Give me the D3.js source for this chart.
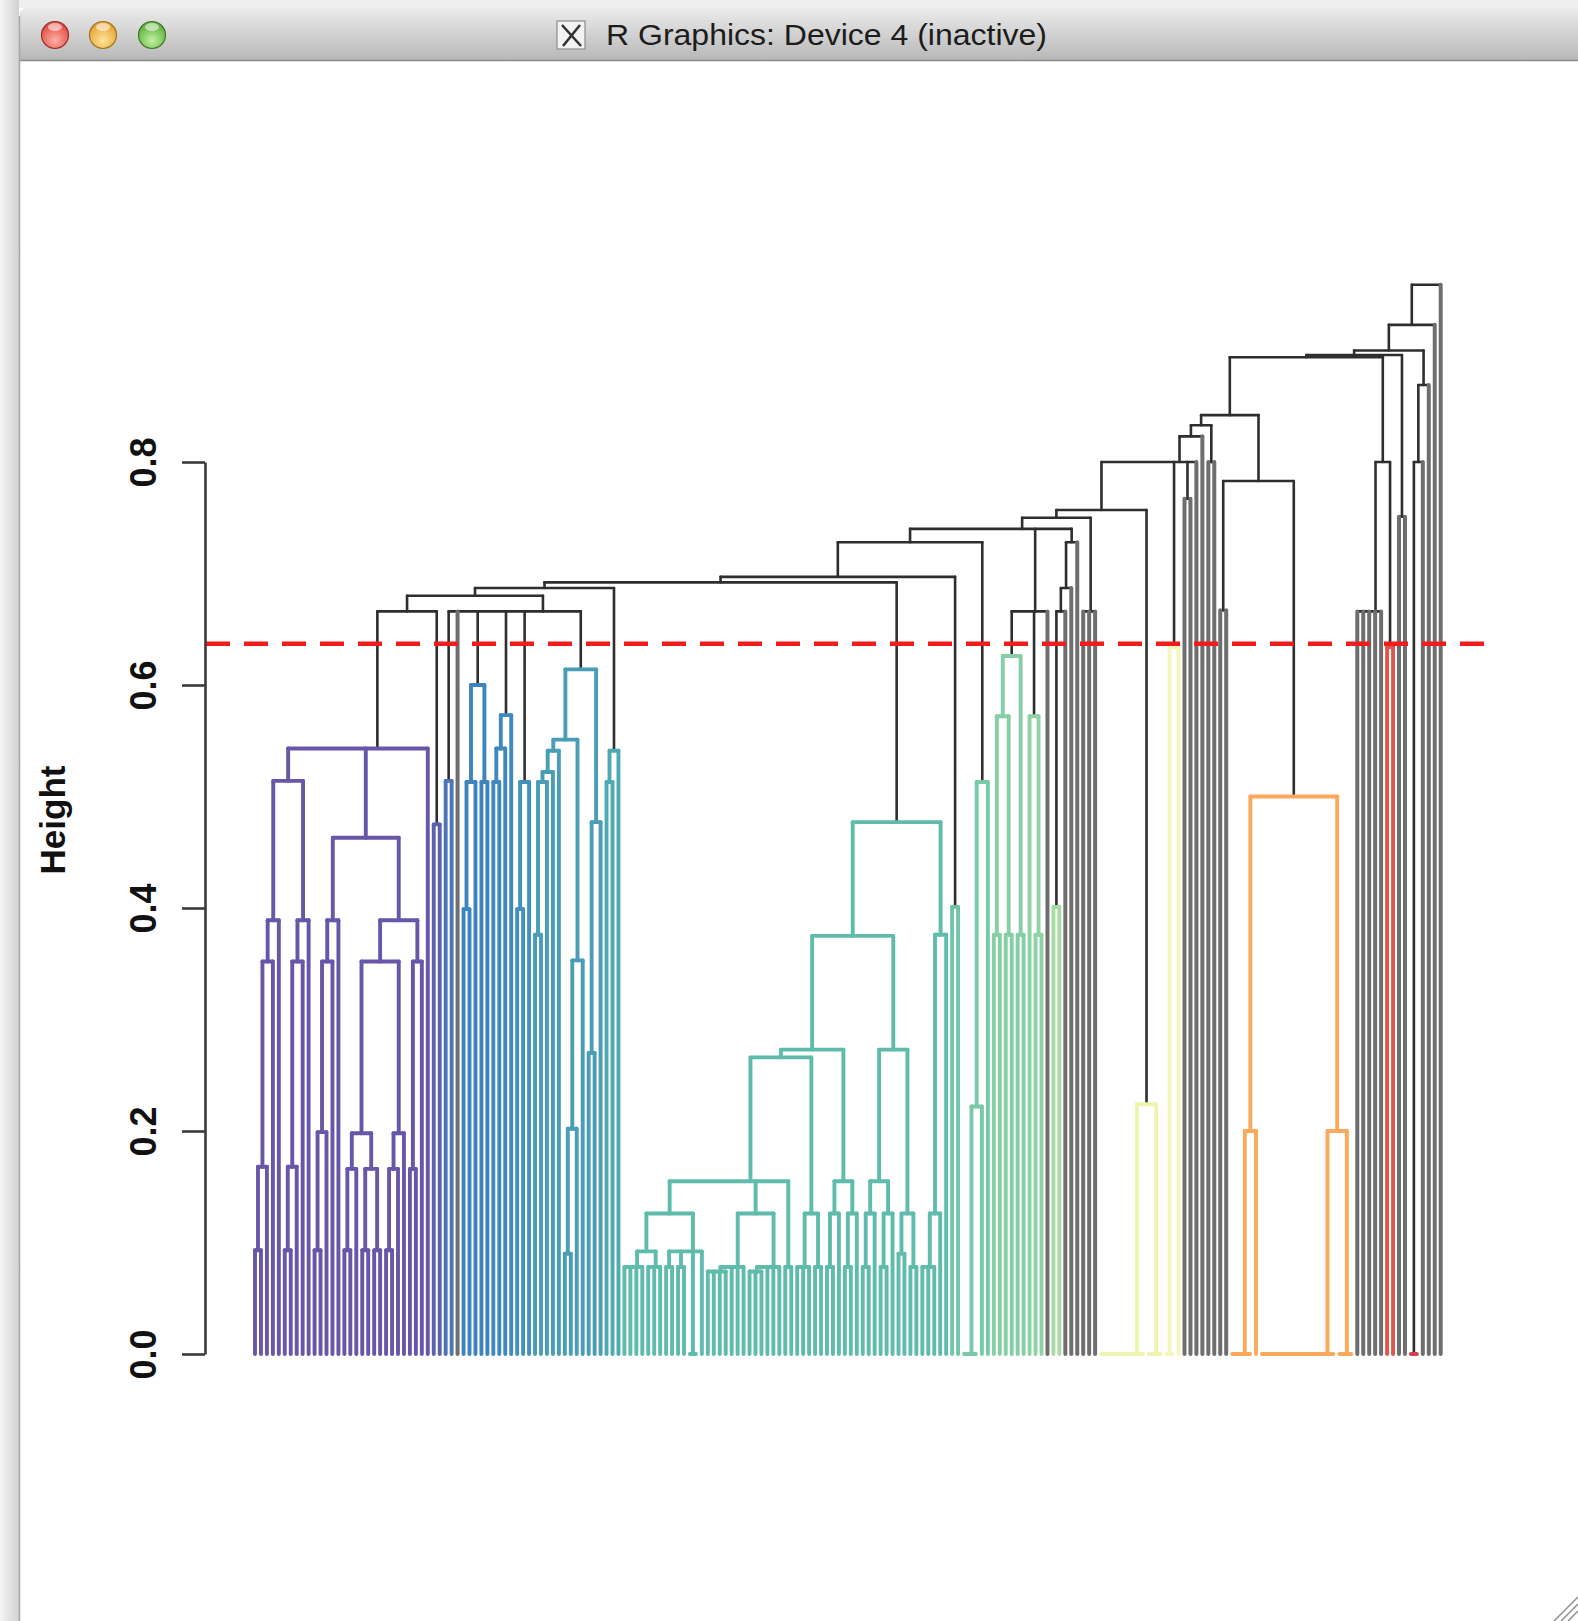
<!DOCTYPE html>
<html>
<head>
<meta charset="utf-8">
<script src="https://cdn.jsdelivr.net/npm/d3@7"></script>
<style>
  body { margin: 0; background: #fff; overflow: hidden; }
</style>
</head>
<body>
<div id="container"></div>
<script>
// a leaf of the dendrogram
const _ = null;

let windowTitle = "R Graphics: Device 4 (inactive)";
let yLabel = "Height";
let yTicks = [0, 0.2, 0.4, 0.6, 0.8];
let cutHeight = 0.637;

// ---- clusters (below the cut), left to right. node = [height, child, child, ...]
let purple = [0.543,
  [0.514,
    [0.389, [0.352, [0.168, [0.093, _, _], _], _], _],
    [0.389, [0.352, [0.168, [0.093, _, _], _], _], _]],
  [0.463,
    [0.389, [0.352, [0.199, [0.093, _, _], _], _], _],
    [0.389,
      [0.352,
        [0.198, [0.166, [0.093, _, _], _], [0.166, [0.093, _, _], [0.093, _, _]]],
        [0.198, [0.166, [0.093, _, _], _], _]],
      [0.352, [0.166, _, _], _]]],
  _];
let purpleBlue = [0.475, _, _];
let blueSmall = [0.514, _, _];
let blue1 = [0.600, [0.513, [0.399, _, _], _], [0.513, _, _]];
let blue2 = [0.573, [0.543, [0.513, _, _], _], _];
let blue3 = [0.513, [0.399, _, _], _];
let teal1 = [0.614,
  [0.551,
    [0.541, [0.522, [0.513, [0.376, _, _], _], _], _],
    [0.353, [0.202, [0.090, _, _], _], _]],
  [0.477, [0.270, _, _], _]];
let teal2 = [0.541, [0.513, _, _], _];

let tealA = [0.126,
  [0.092, [0.078, _, _, _, _], [0.078, _, _, _]],
  [0.092, [0.078, _, _], [0.078, _, _], [0, _, _], _]];
let tealB = [0.126,
  [0.078, [0.074, _, _, _, _], _, _, _],
  [0.078, [0.074, _, _, _], _, _, _]];
let tealC = [0.078, _, _];
let tealD = [0.126, [0.078, _, _, _], [0.078, _, _]];
let tealE = [0.155, [0.126, [0.078, _, _], _], [0.126, [0.078, _, _], _]];
let tealF = [0.155, [0.126, [0.078, _, _], _], [0.126, [0.078, _, _], _]];
let tealG = [0.126, [0.090, _, _], [0.078, _, _]];
let tealH = [0.376, [0.126, [0.078, _, _, _], _], _];
let tealBig = [0.477,
  [0.375,
    [0.273, [0.266, [0.155, tealA, tealB, tealC], tealD], tealE],
    [0.273, tealF, tealG]],
  tealH];

let greenCol = [0.401, _, _];
let greenW = [0.513, [0.222, [0, _, _, _], _], _];
let green2 = [0.626, [0.572, [0.376, _, _], [0.376, _, _]], [0.376, _, _]];
let green3 = [0.572, _, [0.376, _, _]];
let green4 = [0.401, _, _];
let yellow1 = [0.224, [0, _, _, _, _, _, _, _, _], [0, _, _, _]];
let yellow2 = [0.634, [0, _, _], _];
let orange = [0.500,
  [0.200, [0, _, _, _, _], _],
  [0.200, [0, _, _, _, _, _, _, _, _, _, _, _, _, _], [0, _, _, _]]];
let red1 = [0.634, _, _];
let red2 = [0, _, _];

let clusterColors = [
  "#6757a9", "#5b64ae", "#4c74b6", "#3e84bf", "#3f89bf", "#4290bd",
  "#489db7", "#4da9b3", "#5fbcac", "#6fc5a9", "#78c9a7", "#86cfa6",
  "#8fd3a5", "#a6dba3", "#eef4ae", "#f3f6bd", "#fca95b", "#e05549", "#d83c4c"
];
let aboveCutColor = "#2e2e2e";
let singletonColor = "#6e6e6e";
let cutColor = "#f21c1c";

// ---- upper part of the tree (above the cut)
let leftPart = [0.680,
  [0.666, purple, purpleBlue],
  [0.666, blueSmall, _, blue1, blue2, blue3, teal1]];
let middle = [0.740,
  [0.728, [0.697, [0.692, [0.687, leftPart, teal2], tealBig], greenCol], greenW],
  [0.666, green2, green3, _],
  [0.728, [0.687, [0.666, green4, _], _], _]];
let yellowPart = [0.800,
  [0.757, [0.750, middle, [0.666, _, _, _]], yellow1],
  yellow2, [0.767, _, _], _];
let orangePart = [0.842,
  [0.833, [0.823, yellowPart, _], [0.800, _, _]],
  [0.783, [0.667, _, _], orange]];
let tree = [0.959,
  [0.923,
    [0.900,
      [0.896,
        [0.894, orangePart, [0.800, [0.666, _, _, _, _, _], red1]],
        [0.751, _, _]],
      [0.869, [0.800, red2, _], _]],
    _],
  _];

// ---------------------------------------------------------------
let w = 1578;
let h = 1621;

let svg = d3.select("#container")
  .append("svg")
    .attr("width", w)
    .attr("height", h)
    .style("display", "block");

let defs = svg.append("defs");

// window chrome
svg.append("rect").attr("width", w).attr("height", h).attr("fill", "#efefef");
let shadow = defs.append("linearGradient").attr("id", "shadow").attr("x1", 0).attr("x2", 1);
shadow.append("stop").attr("offset", "0%").attr("stop-color", "#f4f4f4");
shadow.append("stop").attr("offset", "100%").attr("stop-color", "#d2d2d2");
svg.append("rect").attr("x", 0).attr("y", 0).attr("width", 19).attr("height", h).attr("fill", "url(#shadow)");
svg.append("rect").attr("x", 19).attr("y", 8).attr("width", w - 19).attr("height", h - 8).attr("fill", "#ffffff");

let tg = defs.append("linearGradient").attr("id", "titleGrad").attr("x1", 0).attr("y1", 0).attr("x2", 0).attr("y2", 1);
tg.append("stop").attr("offset", "0%").attr("stop-color", "#ebebeb");
tg.append("stop").attr("offset", "100%").attr("stop-color", "#b8b8b8");
svg.append("path")
  .attr("d", "M19,60 V17 Q19,8 28,8 H1578 V60 Z")
  .attr("fill", "url(#titleGrad)");
svg.append("line").attr("x1", 19).attr("x2", w).attr("y1", 60.5).attr("y2", 60.5)
  .attr("stroke", "#8a8a8a").attr("stroke-width", 1.5);
svg.append("line").attr("x1", 19.5).attr("x2", 19.5).attr("y1", 16).attr("y2", h)
  .attr("stroke", "#a8a8a8").attr("stroke-width", 1.5);

let lights = [
  {x: 55, base: "#df4a40", hi: "#ffb0a6", edge: "#9c2f27"},
  {x: 103, base: "#e3a231", hi: "#ffe49a", edge: "#a3711b"},
  {x: 152, base: "#5cae3d", hi: "#c2f0a0", edge: "#3a7a23"}
];
lights.forEach(function(d, i){
  let g = defs.append("radialGradient").attr("id", "light" + i)
    .attr("cx", "50%").attr("cy", "70%").attr("r", "65%");
  g.append("stop").attr("offset", "0%").attr("stop-color", d.hi);
  g.append("stop").attr("offset", "100%").attr("stop-color", d.base);
  svg.append("circle").attr("cx", d.x).attr("cy", 35).attr("r", 13.5)
    .attr("fill", "url(#light" + i + ")").attr("stroke", d.edge).attr("stroke-width", 1.2);
  svg.append("ellipse").attr("cx", d.x).attr("cy", 27).attr("rx", 7).attr("ry", 4)
    .attr("fill", "#ffffff").attr("opacity", 0.55);
});

// proxy icon
svg.append("rect").attr("x", 557).attr("y", 21).attr("width", 28).attr("height", 28)
  .attr("fill", "#f3f3f3").attr("stroke", "#8c8c8c").attr("stroke-width", 1.2);
svg.append("path").attr("d", "M562,25 L581,46 M580,25 L563,46")
  .attr("stroke", "#333").attr("stroke-width", 2.6).attr("fill", "none");

svg.append("text")
  .attr("x", 606).attr("y", 45)
  .attr("textLength", 441).attr("lengthAdjust", "spacingAndGlyphs")
  .style("font", "30px 'Liberation Sans', Arial, sans-serif")
  .attr("fill", "#1c1c1c")
  .text(windowTitle);

// resize grip
[0, 7, 14].forEach(function(o){
  svg.append("line").attr("x1", 1554 + o).attr("y1", 1621).attr("x2", 1578).attr("y2", 1597 + o)
    .attr("stroke", "#8d8d8d").attr("stroke-width", 1.5);
});

// ---------------------------------------------------------------
// dendrogram layout
let leafCount = 0;
function build(d){
  if (d === _) {
    return {leaf: true, h: 0, idx: leafCount++, kids: []};
  }
  return {leaf: false, h: d[0], kids: d.slice(1).map(build)};
}
let root = build(tree);

let yScale = d3.scaleLinear().domain([0, 0.8]).range([1354, 462]);
let xScale = d3.scaleLinear().domain([0, leafCount - 1]).range([255, 1440.7]);

// R places a merge at the midpoint of the two merged groups; ties merge left to right
function place(n){
  if (n.leaf) { n.x = xScale(n.idx); return; }
  n.kids.forEach(place);
  n.x = n.kids.slice(1).reduce(function(acc, k){ return (acc + k.x) / 2; }, n.kids[0].x);
}
place(root);

let ci = 0;
function paint(n, inherited){
  if (inherited) {
    n.color = inherited; n.inCluster = true;
  } else if (n.h < cutHeight) {
    if (n.leaf) { n.color = singletonColor; n.single = true; }
    else { n.color = clusterColors[ci++]; n.inCluster = true; }
  } else {
    n.color = aboveCutColor;
  }
  n.kids.forEach(function(k){ paint(k, n.inCluster ? n.color : null); });
}
paint(root, null);

let colW = 3.9, blackW = 2.6, grayW = 4.0;
let segs = [];
function collect(n){
  if (n.leaf) return;
  let xs = n.kids.map(function(k){ return k.x; });
  segs.push({x1: d3.min(xs), x2: d3.max(xs), y1: n.h, y2: n.h,
    color: n.color, width: n.inCluster ? colW : blackW});
  n.kids.forEach(function(k){
    let c, wd;
    if (n.inCluster) { c = n.color; wd = colW; }
    else if (k.single) { c = singletonColor; wd = grayW; }
    else { c = aboveCutColor; wd = blackW; }
    if (k.h < n.h) segs.push({x1: k.x, x2: k.x, y1: k.h, y2: n.h, color: c, width: wd});
    collect(k);
  });
}
collect(root);

let soft = defs.append("filter").attr("id", "soft");
soft.append("feGaussianBlur").attr("stdDeviation", 0.7);

let treeG = svg.append("g").attr("filter", "url(#soft)");
treeG.selectAll("line")
  .data(segs)
  .enter()
  .append("line")
    .attr("x1", function(d){ return d.x1; })
    .attr("x2", function(d){ return d.x2; })
    .attr("y1", function(d){ return yScale(d.y1); })
    .attr("y2", function(d){ return yScale(d.y2); })
    .attr("stroke", function(d){ return d.color; })
    .attr("stroke-width", function(d){ return d.width; })
    .attr("stroke-linecap", "round");

// cut line
treeG.append("line")
  .attr("x1", 206).attr("x2", 1492)
  .attr("y1", yScale(cutHeight)).attr("y2", yScale(cutHeight))
  .attr("stroke", cutColor)
  .attr("stroke-width", 4.6)
  .attr("stroke-dasharray", "24 14");

// y axis
let yAxis = d3.axisLeft(yScale)
  .tickValues(yTicks)
  .tickFormat(d3.format(".1f"))
  .tickSize(23)
  .tickSizeOuter(0);
let yAxisGroup = svg.append("g").attr("class", "yaxis")
  .attr("transform", "translate(205, 0)")
  .call(yAxis);
yAxisGroup.select(".domain").attr("stroke", "#3a3a3a").attr("stroke-width", 2.6);
yAxisGroup.selectAll(".tick line").attr("stroke", "#3a3a3a").attr("stroke-width", 2.6);
yAxisGroup.selectAll(".tick text")
  .attr("transform", "rotate(-90)")
  .attr("x", 0)
  .attr("y", -62)
  .attr("dy", "0.36em")
  .attr("text-anchor", "middle")
  .attr("fill", "#111")
  .style("font", "bold 36px 'Liberation Sans', Arial, sans-serif");

svg.append("text")
  .attr("transform", "translate(52, 820) rotate(-90)")
  .attr("text-anchor", "middle")
  .attr("dy", "0.36em")
  .attr("fill", "#111")
  .style("font", "bold 35px 'Liberation Sans', Arial, sans-serif")
  .text(yLabel);
</script>
</body>
</html>
